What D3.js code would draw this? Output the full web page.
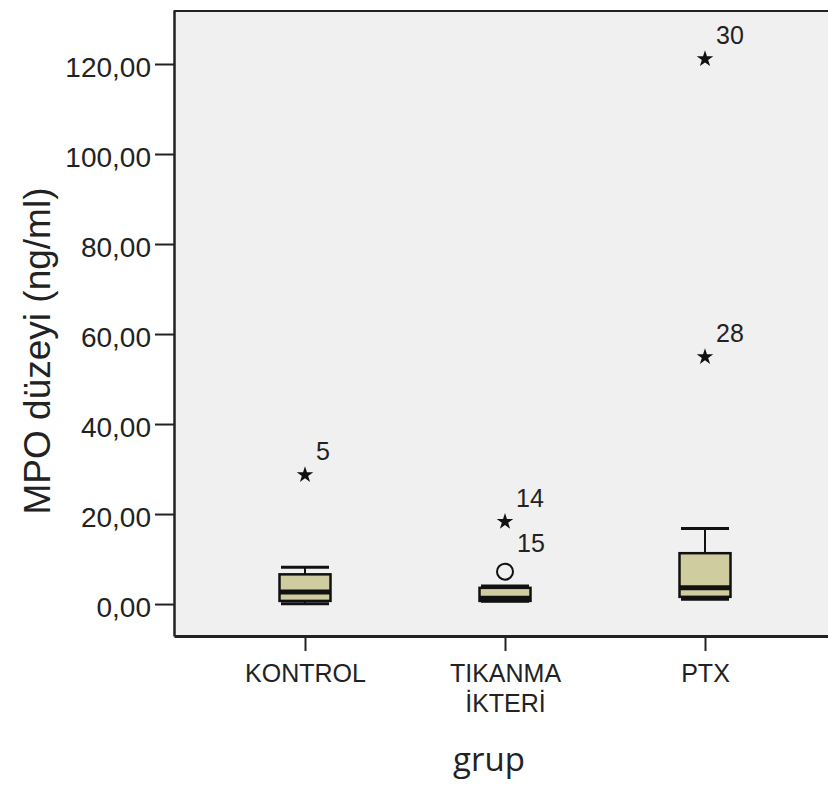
<!DOCTYPE html>
<html>
<head>
<meta charset="utf-8">
<script src="https://cdn.jsdelivr.net/npm/d3@7"></script>
<style>
  body { margin: 0; background: #fff; }
  svg { display: block; }
</style>
</head>
<body>
<div id="chart"></div>
<script>
// groups on the x axis
var groups = ["KONTROL", "TIKANMA İKTERİ", "PTX"];

// box summary per group (ng/ml)
var whiskerLow  = [0.05, 0.6, 1.05];
var q1          = [0.7, 0.7, 1.6];
var median      = [2.7, 1.3, 3.6];
var q3          = [6.6, 3.6, 11.3];
var whiskerHigh = [8.2, 4.0, 16.8];

// outliers: o = mild (circle), * = extreme (star)
var outGroup = ["KONTROL", "TIKANMA İKTERİ", "TIKANMA İKTERİ", "PTX", "PTX"];
var outValue = [28.7, 18.3, 7.2, 54.9, 121.1];
var outCase  = ["5", "14", "15", "28", "30"];
var outKind  = ["extreme", "extreme", "mild", "extreme", "extreme"];

var yTicks = [0, 20, 40, 60, 80, 100, 120];

var width = 828, height = 785;
var plot = {left: 174, top: 10, right: 836, bottom: 636};

var svg = d3.select("#chart").append("svg")
  .attr("width", width)
  .attr("height", height);

var x = d3.scalePoint()
  .domain(groups)
  .range([plot.left, plot.right])
  .padding(0.655);

var y = d3.scaleLinear()
  .domain([-7.1, 132])
  .range([plot.bottom, plot.top]);

var tr = d3.formatLocale({decimal: ",", thousands: ".", grouping: [3], currency: ["", ""]});
var fmt = tr.format(".2f");

// plot background
svg.append("rect")
  .attr("x", plot.left).attr("y", plot.top)
  .attr("width", plot.right - plot.left)
  .attr("height", plot.bottom - plot.top)
  .attr("fill", "#f0f0f0");

// frame top
svg.append("line")
  .attr("x1", plot.left).attr("x2", plot.right)
  .attr("y1", plot.top + 1).attr("y2", plot.top + 1)
  .attr("stroke", "#222").attr("stroke-width", 2);

// y axis
var yAxis = svg.append("g")
  .attr("transform", "translate(" + plot.left + ",0)")
  .call(d3.axisLeft(y).tickValues(yTicks).tickFormat(fmt)
    .tickSize(19).tickSizeOuter(0).tickPadding(4));
yAxis.select(".domain").attr("stroke", "#222").attr("stroke-width", 2.5);
yAxis.selectAll(".tick line").attr("stroke", "#222").attr("stroke-width", 2);
yAxis.selectAll(".tick text")
  .attr("font-family", "Liberation Sans, Arial, sans-serif")
  .attr("font-size", 28)
  .attr("fill", "#222")
  .attr("dy", "0.45em");

// x axis
var xAxis = svg.append("g")
  .attr("transform", "translate(0," + plot.bottom + ")")
  .call(d3.axisBottom(x).tickSize(15).tickSizeOuter(0).tickPadding(10));
xAxis.select(".domain").attr("stroke", "#222").attr("stroke-width", 3);
xAxis.selectAll(".tick line").attr("stroke", "#222").attr("stroke-width", 2);
xAxis.selectAll(".tick text").each(function(d) {
  var t = d3.select(this).text("")
    .attr("font-family", "Liberation Sans, Arial, sans-serif")
    .attr("font-size", 25)
    .attr("fill", "#222")
    .attr("dy", null);
  d.split(" ").forEach(function(w, i) {
    t.append("tspan").attr("x", 0).attr("y", 46 + i * 30).text(w);
  });
});

// axis titles
svg.append("text")
  .attr("transform", "translate(50,351) rotate(-90)")
  .attr("text-anchor", "middle")
  .attr("font-family", "Liberation Sans, Arial, sans-serif")
  .attr("font-size", 37)
  .attr("fill", "#222")
  .text("MPO düzeyi (ng/ml)");

svg.append("text")
  .attr("x", 489).attr("y", 771)
  .attr("text-anchor", "middle")
  .attr("font-family", "Open Sans, sans-serif")
  .attr("font-size", 33)
  .attr("fill", "#222")
  .text("grup");

// boxes
var boxW = x.step() * 0.255;
var capW = x.step() * 0.12;
var boxes = groups.map(function(g, i) {
  return {g: g, lo: whiskerLow[i], q1: q1[i], med: median[i], q3: q3[i], hi: whiskerHigh[i]};
});

var bx = svg.append("g").selectAll("g").data(boxes).enter().append("g")
  .attr("transform", function(d) { return "translate(" + x(d.g) + ",0)"; });

bx.append("line")
  .attr("y1", function(d) { return y(d.hi); })
  .attr("y2", function(d) { return y(d.q3); })
  .attr("stroke", "#111").attr("stroke-width", 2);
bx.append("line")
  .attr("y1", function(d) { return y(d.lo); })
  .attr("y2", function(d) { return y(d.q1); })
  .attr("stroke", "#111").attr("stroke-width", 2);
bx.append("line")
  .attr("x1", -capW).attr("x2", capW)
  .attr("y1", function(d) { return y(d.hi); })
  .attr("y2", function(d) { return y(d.hi); })
  .attr("stroke", "#111").attr("stroke-width", 3);
bx.append("line")
  .attr("x1", -capW).attr("x2", capW)
  .attr("y1", function(d) { return y(d.lo); })
  .attr("y2", function(d) { return y(d.lo); })
  .attr("stroke", "#111").attr("stroke-width", 3);
bx.append("rect")
  .attr("x", -boxW / 2).attr("width", boxW)
  .attr("y", function(d) { return y(d.q3); })
  .attr("height", function(d) { return y(d.q1) - y(d.q3); })
  .attr("fill", "#cfcd9f")
  .attr("stroke", "#111").attr("stroke-width", 2.5);
bx.append("line")
  .attr("x1", -boxW / 2).attr("x2", boxW / 2)
  .attr("y1", function(d) { return y(d.med); })
  .attr("y2", function(d) { return y(d.med); })
  .attr("stroke", "#111").attr("stroke-width", 5);

// outliers
var outs = outValue.map(function(v, i) {
  return {g: outGroup[i], v: v, c: outCase[i], k: outKind[i]};
});
var star = d3.symbol().type(d3.symbolStar).size(85);

var og = svg.append("g").selectAll("g").data(outs).enter().append("g")
  .attr("transform", function(d) { return "translate(" + x(d.g) + "," + y(d.v) + ")"; });

og.filter(function(d) { return d.k === "extreme"; })
  .append("path").attr("d", star).attr("fill", "#111");
og.filter(function(d) { return d.k === "mild"; })
  .append("circle").attr("r", 8)
  .attr("fill", "none").attr("stroke", "#111").attr("stroke-width", 2);

og.append("text")
  .attr("x", function(d) { return d.k === "mild" ? 12 : 11; })
  .attr("y", function(d) { return d.k === "mild" ? -20 : -15; })
  .attr("font-family", "Liberation Sans, Arial, sans-serif")
  .attr("font-size", 25)
  .attr("fill", "#222")
  .text(function(d) { return d.c; });
</script>
</body>
</html>
